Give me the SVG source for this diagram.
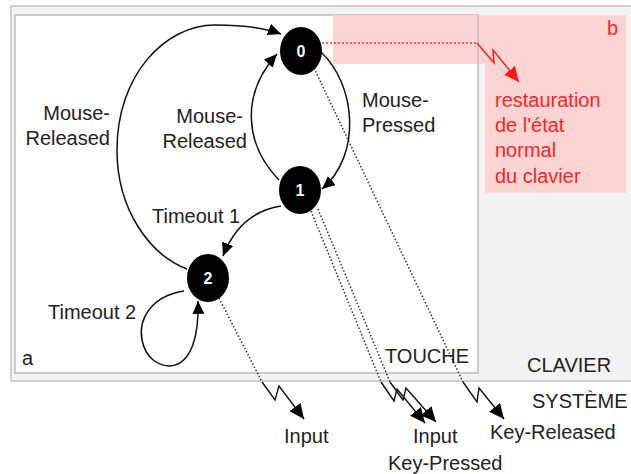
<svg xmlns="http://www.w3.org/2000/svg" width="631" height="474" viewBox="0 0 631 474">
<style>
.lbl{font-family:"Liberation Sans",Arial,sans-serif;font-size:20px;fill:#222}
.red{fill:#ff2424}
.end{text-anchor:end}
.num{font-family:"Liberation Sans",Arial,sans-serif;font-size:16px;font-weight:bold;fill:#fff;text-anchor:middle}
.node{fill:#000}
.edge{fill:none;stroke:#111;stroke-width:1.5}
.dot{fill:none;stroke:#333;stroke-width:1.5;stroke-dasharray:1.5 2}
.zig{fill:none;stroke:#111;stroke-width:1.4}
.rdot{fill:none;stroke:#ff3030;stroke-width:1.5;stroke-dasharray:2 2}
.rzig{fill:none;stroke:#ff2020;stroke-width:1.5}
</style>
<defs>
<marker id="ah" markerUnits="userSpaceOnUse" markerWidth="14" markerHeight="12" refX="13" refY="6" orient="auto">
<path d="M0,0 L13,6 L0,12 z" fill="#000"/>
</marker>
<marker id="zh" markerUnits="userSpaceOnUse" markerWidth="16" markerHeight="14" refX="15" refY="7" orient="auto">
<path d="M0,0 L15,7 L0,14 z" fill="#000"/>
</marker>
<marker id="rh" markerUnits="userSpaceOnUse" markerWidth="16" markerHeight="14" refX="15" refY="7" orient="auto">
<path d="M0,0 L15,7 L0,14 z" fill="#ff1a1a"/>
</marker>
</defs>
<rect x="0" y="0" width="631" height="474" fill="#fff"/>
<g id="clavier">
<rect x="11" y="6" width="640" height="375" fill="#f3f3f3" stroke="#d0d0d0" stroke-width="2"/>
<text class="lbl" x="527" y="372">CLAVIER</text>
</g>
<g id="touche">
<rect x="15" y="15" width="463" height="358" fill="#fff" stroke="#bdbdbd" stroke-width="1.5"/>
<text class="lbl" x="385" y="363">TOUCHE</text>
<text class="lbl" x="22" y="365">a</text>
</g>
<g id="zone-b">
<path d="M333,15 L626,15 L626,193 L485,193 L485,64 L333,64 Z" fill="#fcd4d4"/>
<line x1="478" y1="15" x2="478" y2="64" stroke="#bdbdbd" stroke-width="1.5"/>
<text class="lbl red" x="607" y="35">b</text>
<text class="lbl red" x="495" y="107">restauration</text>
<text class="lbl red" x="495" y="132">de l'état</text>
<text class="lbl red" x="495" y="157">normal</text>
<text class="lbl red" x="495" y="183">du clavier</text>
</g>
<text class="lbl" x="532" y="408">SYSTÈME</text>
<g id="connectors">
<path class="edge" d="M321,52 C356,85 362,155 322,189" marker-end="url(#ah)"/>
<path class="edge" d="M279,180 C245,145 240,95 277,54" marker-end="url(#ah)"/>
<path class="edge" d="M187,269 C150,255 117,210 117,150 C117,75 165,25 215,25 C245,25 265,28 281,34" marker-end="url(#ah)"/>
<path class="edge" d="M281,206 C255,210 235,225 223,256" marker-end="url(#ah)"/>
<path class="edge" d="M184,291 C152,296 138,318 142,340 C146,360 160,366 170,366 C192,364 199,335 198,301" marker-end="url(#ah)"/>
<path class="dot" d="M219,298 L262,382"/>
<path class="zig" d="M262,382 L275,400 L279,386 L304,419" marker-end="url(#zh)"/>
<path class="dot" d="M311,211 L381,382"/>
<path class="zig" d="M381,382 L394,401 L397,389 L425,423" marker-end="url(#zh)"/>
<path class="dot" d="M318,209 L390,382"/>
<path class="zig" d="M390,382 L403,400 L406,388 L436,422" marker-end="url(#zh)"/>
<path class="dot" d="M314,68 L463,382"/>
<path class="zig" d="M463,382 L477,402 L479,388 L504,419" marker-end="url(#zh)"/>
<path class="rdot" d="M322,43 L477,43"/>
<path class="rzig" d="M477,43 L494,63 L493,50 L519,82" marker-end="url(#rh)"/>
</g>
<g id="node0">
<ellipse class="node" cx="301" cy="51" rx="21" ry="24"/>
<text class="num" x="301" y="57">0</text>
</g>
<g id="node1">
<ellipse class="node" cx="300" cy="190" rx="21" ry="24"/>
<text class="num" x="300" y="196">1</text>
</g>
<g id="node2">
<ellipse class="node" cx="208" cy="278" rx="21" ry="24"/>
<text class="num" x="208" y="284">2</text>
</g>
<g id="labels">
<text class="lbl end" x="110" y="120">Mouse-</text>
<text class="lbl end" x="110" y="145">Released</text>
<text class="lbl end" x="243" y="123">Mouse-</text>
<text class="lbl end" x="247" y="148">Released</text>
<text class="lbl" x="362" y="107">Mouse-</text>
<text class="lbl" x="362" y="132">Pressed</text>
<text class="lbl" x="152" y="223">Timeout 1</text>
<text class="lbl" x="48" y="319">Timeout 2</text>
<text class="lbl" x="284" y="443">Input</text>
<text class="lbl" x="413" y="443">Input</text>
<text class="lbl" x="388" y="470">Key-Pressed</text>
<text class="lbl" x="490" y="439">Key-Released</text>
</g>
</svg>
